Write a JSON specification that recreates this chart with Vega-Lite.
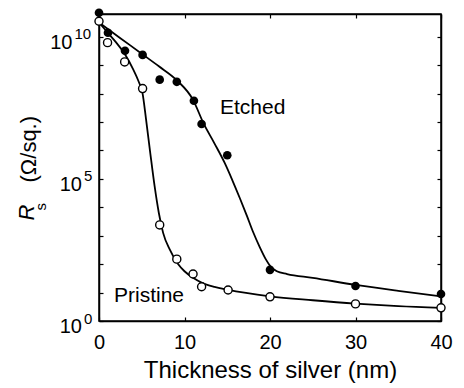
{
  "$schema": "https://vega.github.io/schema/vega-lite/v6.json",
  "width": 342,
  "height": 307,
  "autosize": {"type": "none"},
  "padding": {"left": 99, "top": 14, "right": 23, "bottom": 67},
  "background": "white",
  "config": {
    "view": {"stroke": "black", "strokeWidth": 1.5},
    "font": "Liberation Sans",
    "axis": {"grid": false, "domainColor": "black", "domainWidth": 1.5, "tickColor": "black", "tickWidth": 1.2, "labelColor": "black", "titleColor": "black", "labelFont": "Liberation Sans", "titleFont": "Liberation Sans", "titleFontWeight": "normal", "labelFlush": false, "labelOverlap": false}
  },
  "datasets": {
    "pts": [
      {"s": "Etched", "x": 0, "r": 7e10},
      {"s": "Etched", "x": 1.05, "r": 1.38e10},
      {"s": "Etched", "x": 3.04, "r": 3.2e9},
      {"s": "Etched", "x": 5.1, "r": 2.3e9},
      {"s": "Etched", "x": 7.1, "r": 3.1e8},
      {"s": "Etched", "x": 9.1, "r": 2.6e8},
      {"s": "Etched", "x": 11.1, "r": 5.6e7},
      {"s": "Etched", "x": 12, "r": 8.5e6},
      {"s": "Etched", "x": 15, "r": 6.8e5},
      {"s": "Etched", "x": 20, "r": 63},
      {"s": "Etched", "x": 30, "r": 17},
      {"s": "Etched", "x": 40, "r": 8.9},
      {"s": "Pristine", "x": 0, "r": 3.5e10},
      {"s": "Pristine", "x": 1, "r": 6.2e9},
      {"s": "Pristine", "x": 3, "r": 1.3e9},
      {"s": "Pristine", "x": 5.1, "r": 1.5e8},
      {"s": "Pristine", "x": 7.1, "r": 2400},
      {"s": "Pristine", "x": 9.1, "r": 150},
      {"s": "Pristine", "x": 11, "r": 45},
      {"s": "Pristine", "x": 12, "r": 16},
      {"s": "Pristine", "x": 15.1, "r": 12.3},
      {"s": "Pristine", "x": 20, "r": 7.1},
      {"s": "Pristine", "x": 30, "r": 4},
      {"s": "Pristine", "x": 40, "r": 2.9}
    ],
    "curves": [
      {"s": "Etched", "x": 0, "r": 3.16e10},
      {"s": "Etched", "x": 2.5, "r": 8.91e9},
      {"s": "Etched", "x": 5.15, "r": 2.34e9},
      {"s": "Etched", "x": 7, "r": 9.12e8},
      {"s": "Etched", "x": 9.1, "r": 2.95e8},
      {"s": "Etched", "x": 11, "r": 6.03e7},
      {"s": "Etched", "x": 12.2, "r": 9.33e6},
      {"s": "Etched", "x": 13.5, "r": 1.78e6},
      {"s": "Etched", "x": 14.7, "r": 3.63e5},
      {"s": "Etched", "x": 15.6, "r": 8.91e4},
      {"s": "Etched", "x": 16.5, "r": 2.0e4},
      {"s": "Etched", "x": 17.3, "r": 5010},
      {"s": "Etched", "x": 18, "r": 1410},
      {"s": "Etched", "x": 18.8, "r": 398},
      {"s": "Etched", "x": 19.5, "r": 150},
      {"s": "Etched", "x": 20.1, "r": 80},
      {"s": "Etched", "x": 20.8, "r": 56},
      {"s": "Etched", "x": 22, "r": 45},
      {"s": "Etched", "x": 25, "r": 33.1},
      {"s": "Etched", "x": 30, "r": 18.6},
      {"s": "Etched", "x": 35, "r": 11.5},
      {"s": "Etched", "x": 40, "r": 7.41},
      {"s": "Pristine", "x": 0, "r": 3.16e10},
      {"s": "Pristine", "x": 1, "r": 1.41e10},
      {"s": "Pristine", "x": 2, "r": 6.31e9},
      {"s": "Pristine", "x": 3, "r": 2.51e9},
      {"s": "Pristine", "x": 4, "r": 7.08e8},
      {"s": "Pristine", "x": 4.6, "r": 2.82e8},
      {"s": "Pristine", "x": 5.1, "r": 1e8},
      {"s": "Pristine", "x": 5.5, "r": 1.26e7},
      {"s": "Pristine", "x": 6, "r": 7.94e5},
      {"s": "Pristine", "x": 6.5, "r": 5.62e4},
      {"s": "Pristine", "x": 7, "r": 6310},
      {"s": "Pristine", "x": 7.5, "r": 1260},
      {"s": "Pristine", "x": 8.3, "r": 316},
      {"s": "Pristine", "x": 9.2, "r": 105},
      {"s": "Pristine", "x": 10, "r": 56.2},
      {"s": "Pristine", "x": 11, "r": 33.1},
      {"s": "Pristine", "x": 12, "r": 22.4},
      {"s": "Pristine", "x": 13.5, "r": 15.8},
      {"s": "Pristine", "x": 15, "r": 12.6},
      {"s": "Pristine", "x": 20, "r": 7.41},
      {"s": "Pristine", "x": 25, "r": 5.37},
      {"s": "Pristine", "x": 30, "r": 4.07},
      {"s": "Pristine", "x": 35, "r": 3.31},
      {"s": "Pristine", "x": 40, "r": 2.88}
    ],
    "labels": [
      {"t": "Etched", "x": 14.15, "r": 1.95e7},
      {"t": "Pristine", "x": 1.75, "r": 4.7}
    ]
  },
  "resolve": {"axis": {"x": "independent", "y": "independent"}},
  "layer": [
    {
      "data": {"name": "curves"},
      "mark": {"type": "line", "color": "black", "strokeWidth": 1.8, "interpolate": "monotone"},
      "encoding": {
        "x": {"field": "x", "type": "quantitative", "scale": {"domain": [0, 40], "nice": false},
          "axis": {"values": [0, 10, 20, 30, 40], "tickSize": -4, "labelPadding": 15, "labelFontSize": 20, "title": "Thickness of silver (nm)", "titleFontSize": 24, "titleX": 171, "titleY": 56, "titleBaseline": "alphabetic", "titleAlign": "center"}},
        "y": {"field": "r", "type": "quantitative", "scale": {"type": "log", "domain": [1, 6.31e10], "nice": false},
          "axis": {"values": [1, 10, 100, 1000, 10000, 100000, 1000000, 10000000, 100000000, 1000000000, 10000000000], "tickSize": -4,
            "labelPadding": {"condition": {"test": "datum.value > 1e9", "value": 31}, "value": 21.5},
            "labelFontSize": 20, "labelAlign": "right", "labelBaseline": "middle", "labelOffset": 5.5,
            "labelExpr": "(round(log(datum.value)/LN10) % 5 == 0) ? '10' : ''",
            "title": "(Ω/sq.)", "titleFontSize": 22, "titleX": -64, "titleY": 168, "titleBaseline": "alphabetic", "titleAngle": -90, "titleAlign": "left"}},
        "detail": {"field": "s"}
      }
    },
    {
      "data": {"name": "pts"},
      "transform": [{"filter": "datum.s == 'Etched'"}],
      "mark": {"type": "point", "shape": "circle", "filled": true, "color": "black", "size": 75, "opacity": 1},
      "encoding": {
        "x": {"field": "x", "type": "quantitative", "axis": null},
        "y": {"field": "r", "type": "quantitative", "axis": null}
      }
    },
    {
      "data": {"name": "pts"},
      "transform": [{"filter": "datum.s == 'Pristine'"}],
      "mark": {"type": "point", "shape": "circle", "filled": false, "fill": "white", "fillOpacity": 1, "stroke": "black", "strokeWidth": 1.4, "size": 65, "opacity": 1},
      "encoding": {
        "x": {"field": "x", "type": "quantitative", "axis": null},
        "y": {"field": "r", "type": "quantitative", "axis": null}
      }
    },
    {
      "data": {"name": "labels"},
      "mark": {"type": "text", "align": "left", "baseline": "alphabetic", "fontSize": 21, "color": "black", "font": "Liberation Sans"},
      "encoding": {
        "x": {"field": "x", "type": "quantitative", "axis": null},
        "y": {"field": "r", "type": "quantitative", "axis": null},
        "text": {"field": "t"}
      }
    },
    {
      "data": {"name": "pts"},
      "mark": {"type": "point", "opacity": 0},
      "encoding": {
        "x": {"field": "x", "type": "quantitative",
          "axis": {"orient": "top", "values": [0, 10, 20, 30, 40], "tickSize": -4, "labels": false,
            "title": "s", "titleFontSize": 15, "titleX": -54, "titleY": 196, "titleAngle": -90, "titleAlign": "left", "titleBaseline": "alphabetic"}},
        "y": {"field": "r", "type": "quantitative",
          "axis": {"orient": "right", "values": [1, 10, 100, 1000, 10000, 100000, 1000000, 10000000, 100000000, 1000000000, 10000000000], "tickSize": -4,
            "labelExpr": "round(log(datum.value)/LN10) % 5 == 0 ? '' + round(log(datum.value)/LN10) : ''",
            "labelFontSize": 15, "labelAlign": "left", "labelBaseline": "middle", "labelOffset": -3,
            "labelPadding": {"condition": {"test": "datum.value > 1e9", "value": -363}, "value": -353.5},
            "title": "R", "titleFontSize": 22, "titleFontStyle": "italic", "titleX": -408, "titleY": 206, "titleAngle": -90, "titleAlign": "left", "titleBaseline": "alphabetic"}}
      }
    }
  ]
}
